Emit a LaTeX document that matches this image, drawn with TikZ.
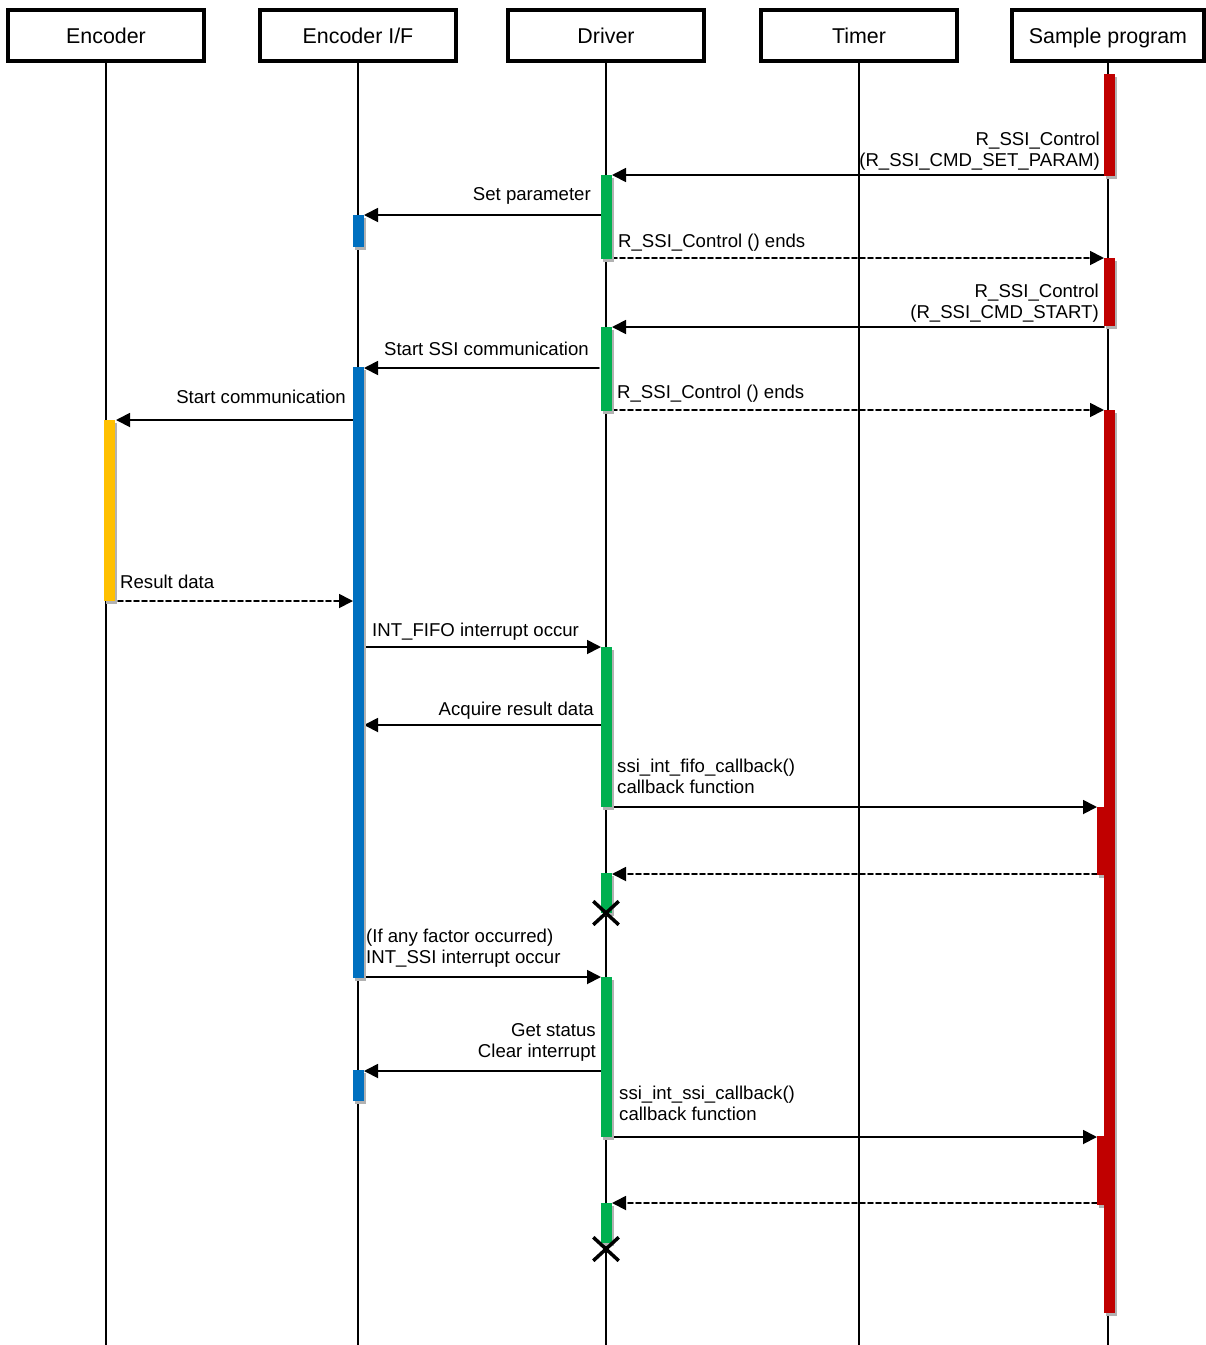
\documentclass[tikz,border=0pt]{standalone}
\usepackage{fontspec}
\setmainfont{Liberation Sans}
\usepackage{tkz-euclide}
\usetikzlibrary{arrows.meta,shapes.misc}
\definecolor{drvgreen}{RGB}{0,176,80}
\definecolor{eifblue}{RGB}{0,112,192}
\definecolor{spgred}{RGB}{192,0,0}
\definecolor{encyellow}{RGB}{255,192,0}

\begin{document}
\begin{tikzpicture}[x=1pt,y=-1pt,
  headbox/.style={draw,line width=4pt,minimum width=196pt,minimum height=51pt,inner sep=0pt,text height=20pt,text depth=4pt,font=\fontsize{21.4}{25}\selectfont},
  lifeline/.style={line width=1.5pt},
  msg/.style={line width=1.8pt,-{Triangle[length=14pt,width=14pt]}},
  reply/.style={msg,dash pattern=on 5pt off 3pt},
  lbl/.style={inner sep=0pt,font=\fontsize{18.6}{21}\selectfont},
  actbar/.style={preaction={fill=black!30,transform canvas={shift={(1.5pt,-3pt)}}}},
  endx/.style={draw,cross out,line width=3.5pt,minimum width=22pt,minimum height=20pt,inner sep=0pt}]
\useasboundingbox (0,0) rectangle (1206,1345);

\node[headbox] (enc) at (106,35.5) {Encoder};
\node[headbox] (eif) at (358,35.5) {Encoder I/F};
\node[headbox] (drv) at (606,35.5) {Driver};
\node[headbox] (tmr) at (859,35.5) {Timer};
\node[headbox,minimum width=192pt] (spg) at (1108,35.5) {Sample program};

\tkzDefPoint(106,1345){encE}
\tkzDefPoint(358,1345){eifE}
\tkzDefPoint(606,1345){drvE}
\tkzDefPoint(859,1345){tmrE}
\tkzDefPoint(1108,1345){spgE}
\draw[lifeline] (enc) -- (encE);
\draw[lifeline] (eif) -- (eifE);
\draw[lifeline] (drv) -- (drvE);
\draw[lifeline] (tmr) -- (tmrE);
\draw[lifeline] (spg) -- (spgE);


  \tkzDefPoint(1104,175){s1}
  \tkzDefPoint(612,175){d1}
\tkzDrawSegment[msg](s1,d1)
\node[lbl,align=right,anchor=base east] (t1) at (1100,166) {R\_SSI\_Control\\(R\_SSI\_CMD\_SET\_PARAM)};

  \tkzDefPoint(601,215){d2}
  \tkzDefPoint(364,215){e2}
\tkzDrawSegment[msg](d2,e2)
\node[lbl,anchor=base east] (t2) at (591,200) {Set parameter};

  \tkzDefPoint(612,258){d3}
  \tkzDefPoint(1104,258){s3}
\tkzDrawSegment[reply](d3,s3)
\node[lbl,anchor=base west] (t3) at (618,247) {R\_SSI\_Control () ends};

  \tkzDefPoint(1104,327){s4}
  \tkzDefPoint(612,327){d4}
\tkzDrawSegment[msg](s4,d4)
\node[lbl,align=right,anchor=base east] (t4) at (1099,318) {R\_SSI\_Control\\(R\_SSI\_CMD\_START)};

  \tkzDefPoint(599,368){d5}
  \tkzDefPoint(364,368){e5}
\tkzDrawSegment[msg](d5,e5)
\node[lbl,anchor=base east] (t5) at (589,355) {Start SSI communication};

  \tkzDefPoint(612,410){d6}
  \tkzDefPoint(1104,410){s6}
\tkzDrawSegment[reply](d6,s6)
\node[lbl,anchor=base west] (t6) at (617,398) {R\_SSI\_Control () ends};

  \tkzDefPoint(357,420){e7}
  \tkzDefPoint(116,420){n7}
\tkzDrawSegment[msg](e7,n7)
\node[lbl,anchor=base east] (t7) at (346,403) {Start communication};

  \tkzDefPoint(110,601){n8}
  \tkzDefPoint(353,601){e8}
\tkzDrawSegment[reply](n8,e8)
\node[lbl,anchor=base west] (t8) at (120,588) {Result data};

  \tkzDefPoint(364,647){e9}
  \tkzDefPoint(601,647){d9}
\tkzDrawSegment[msg](e9,d9)
\node[lbl,anchor=base west] (t9) at (372,636) {INT\_FIFO interrupt occur};

  \tkzDefPoint(601,725){d10}
  \tkzDefPoint(364,725){e10}
\tkzDrawSegment[msg](d10,e10)
\node[lbl,anchor=base east] (t10) at (594,715) {Acquire result data};

  \tkzDefPoint(606,807){d11}
  \tkzDefPoint(1097,807){s11}
\tkzDrawSegment[msg](d11,s11)
\node[lbl,align=left,anchor=base west] (t11) at (617,793) {ssi\_int\_fifo\_callback()\\callback function};

  \tkzDefPoint(1097,874){s12}
  \tkzDefPoint(612,874){d12}
\tkzDrawSegment[reply](s12,d12)

  \tkzDefPoint(364,977){e13}
  \tkzDefPoint(601,977){d13}
\tkzDrawSegment[msg](e13,d13)
\node[lbl,align=left,anchor=base west] (t13) at (366,963) {(If any factor occurred)\\INT\_SSI interrupt occur};

  \tkzDefPoint(606,1071){d14}
  \tkzDefPoint(364,1071){e14}
\tkzDrawSegment[msg](d14,e14)
\node[lbl,align=right,anchor=base east] (t14) at (596,1057) {Get status\\Clear interrupt};

  \tkzDefPoint(606,1137){d15}
  \tkzDefPoint(1097,1137){s15}
\tkzDrawSegment[msg](d15,s15)
\node[lbl,align=left,anchor=base west] (t15) at (619,1120) {ssi\_int\_ssi\_callback()\\callback function};

  \tkzDefPoint(1097,1203){s16}
  \tkzDefPoint(612,1203){d16}
\tkzDrawSegment[reply](s16,d16)


\fill[spgred,actbar] (1104,74) rectangle (1115,176);
\fill[spgred,actbar] (1104,258) rectangle (1115,326);
\fill[spgred,actbar] (1097,807) rectangle (1108,875);
\fill[spgred,actbar] (1097,1136) rectangle (1108,1205);
\fill[spgred,actbar] (1104,410) rectangle (1115,1313);

\fill[drvgreen,actbar] (601,175) rectangle (612,259);
\fill[drvgreen,actbar] (601,327) rectangle (612,411);
\fill[drvgreen,actbar] (601,647) rectangle (612,807);
\fill[drvgreen,actbar] (601,873) rectangle (612,913);
\fill[drvgreen,actbar] (601,977) rectangle (612,1137);
\fill[drvgreen,actbar] (601,1203) rectangle (612,1243);

\fill[eifblue,actbar] (353,215) rectangle (364,247);
\fill[eifblue,actbar] (353,367) rectangle (364,978);
\fill[eifblue,actbar] (353,1070) rectangle (364,1101);

\fill[encyellow,actbar] (104,420) rectangle (115,601);

\node[endx] (x1) at (606,913) {};
\node[endx] (x2) at (606,1249) {};

\end{tikzpicture}
\end{document}
